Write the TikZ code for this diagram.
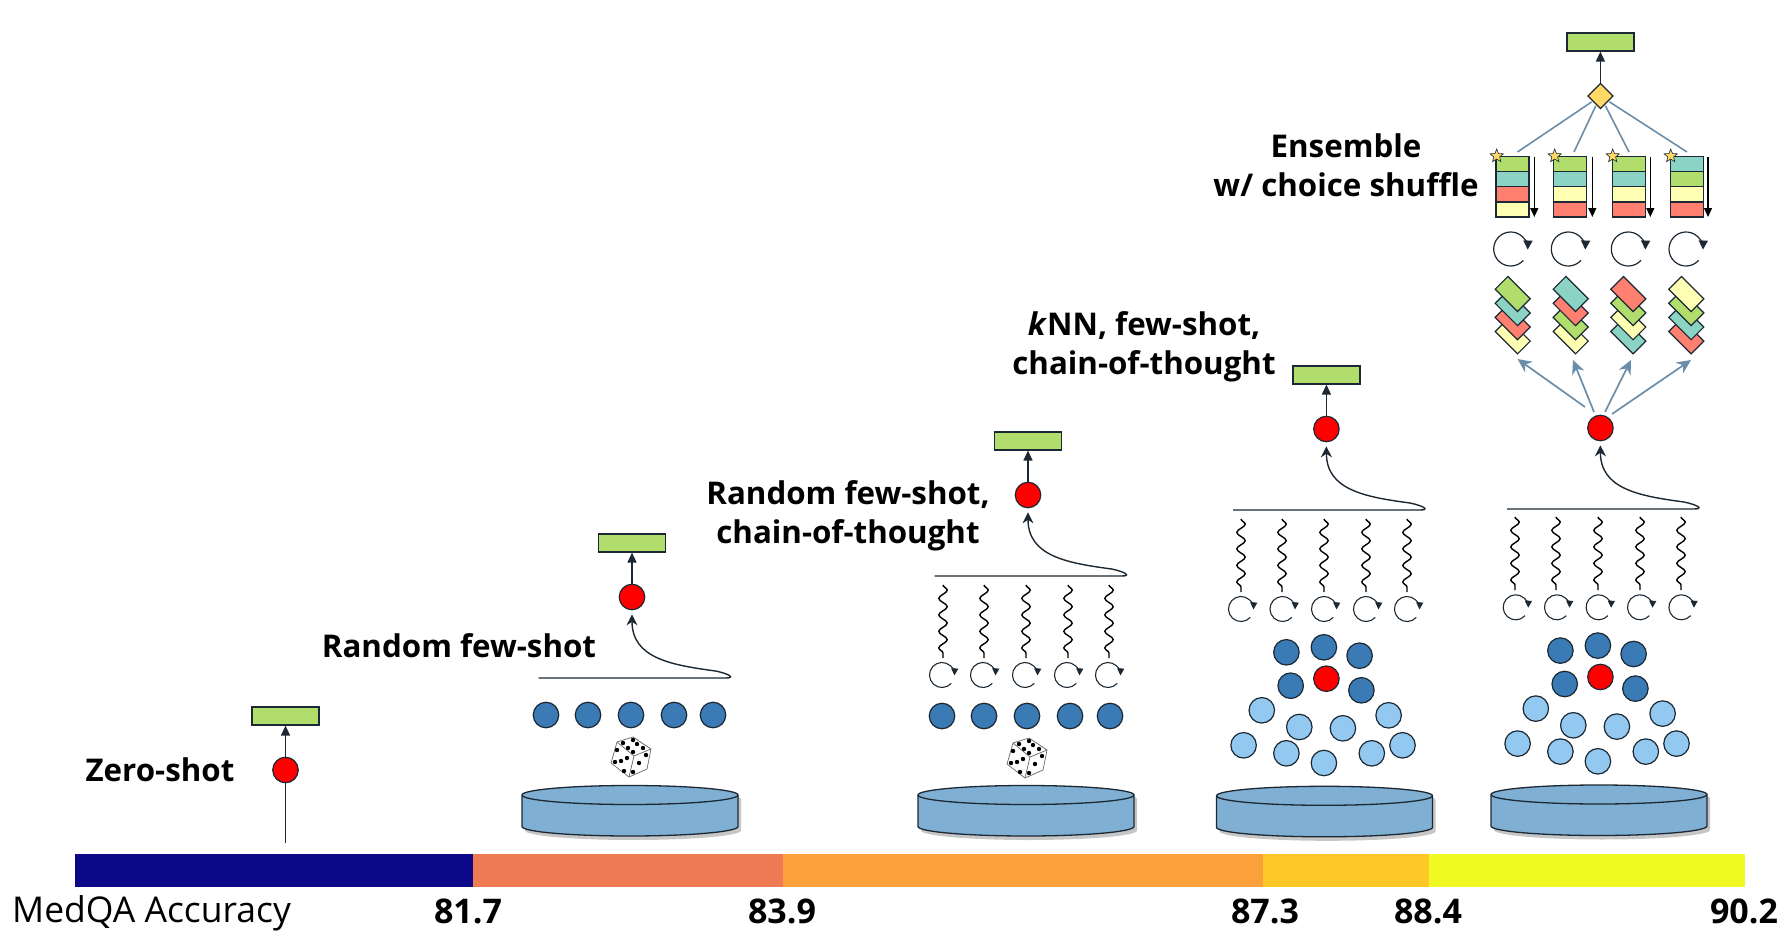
\documentclass[tikz,border=0pt]{standalone}
\usepackage{fontspec}
\setmainfont{Open Sans}
\usetikzlibrary{arrows.meta,shapes.geometric,shadows,decorations.pathmorphing}

\definecolor{barnavy}{HTML}{0D0887}
\definecolor{barcoral}{HTML}{EF7B55}
\definecolor{barorange}{HTML}{FCA13A}
\definecolor{baramber}{HTML}{FEC828}
\definecolor{baryellow}{HTML}{F0F921}
\definecolor{cellgreen}{HTML}{B1DD6C}
\definecolor{cellteal}{HTML}{8AD3C5}
\definecolor{cellred}{HTML}{FF7F70}
\definecolor{cellyellow}{HTML}{FFFFB3}
\definecolor{dotdark}{HTML}{3A7AB5}
\definecolor{dotlight}{HTML}{93C9F0}
\definecolor{dbblue}{HTML}{7FB0D3}
\definecolor{fanblue}{HTML}{6A8DA9}
\definecolor{linedark}{HTML}{1C2833}
\definecolor{ensgold}{HTML}{FFD966}

\tikzset{
	outbox/.style={shape=rectangle, draw=linedark, line width=1.2pt, fill=cellgreen, minimum width=67pt, minimum height=18pt, inner sep=0pt},
	reddot/.style={shape=circle, draw=linedark, line width=1.2pt, fill=red, minimum size=25.5pt, inner sep=0pt},
	darkdot/.style={reddot, fill=dotdark},
	lightdot/.style={reddot, fill=dotlight},
	cell/.style={shape=rectangle, draw=linedark, line width=1.2pt, minimum width=33pt, minimum height=15pt, inner sep=0pt},
	card/.style={shape=rectangle, rotate=-45, draw=linedark, line width=1.2pt, minimum width=31.6pt, minimum height=18pt, inner sep=0pt},
	bestmark/.style={shape=star, star points=5, star point ratio=2.3, draw=linedark, line width=0.6pt, fill=ensgold, minimum size=14pt, inner sep=0pt},
	upline/.style={draw=linedark, line width=1.3pt, -{Stealth[length=10pt,width=9pt,inset=0pt]}},
	plainline/.style={draw=linedark, line width=1.3pt},
	baseline/.style={draw=linedark, line width=1.4pt, -{Stealth[length=11pt,width=11pt]}, shorten >=4pt},
	fanline/.style={draw=fanblue, line width=1.7pt, -{Stealth[length=14pt,width=13pt]}},
	joinline/.style={draw=fanblue, line width=1.6pt, shorten >=1pt},
	sortline/.style={draw=black, line width=1.2pt, -{Stealth[length=9pt,width=8pt,inset=0pt]}},
	wave/.style={draw=black, line width=1.4pt, decorate, decoration={snake, segment length=16.5pt, amplitude=4.2pt}},
	boldtext/.style={font=\bfseries\fontsize{31.3}{39}\selectfont, align=center, inner sep=0pt},
	scoretext/.style={font=\bfseries\fontsize{34}{40}\selectfont, inner sep=0pt},
	smallturn/.pic={\draw[line width=1.1pt, draw=linedark, -{Stealth[length=7pt,width=7pt,inset=0pt]}] (0,0) ++(-42:12.5pt) arc[start angle=-42, end angle=-362, radius=12.5pt];},
	bigturn/.pic={\draw[line width=1.2pt, draw=linedark, -{Stealth[length=9pt,width=9pt,inset=0pt]}] (0,0) ++(-42:17pt) arc[start angle=-42, end angle=-362, radius=17pt];},
	dbdisk/.pic={
		\filldraw[draw=linedark, line width=1.3pt, fill=dbblue, drop shadow={shadow xshift=3pt, shadow yshift=-4pt, fill=black!50, opacity=0.45}] (-108,-15.5) -- (-108,16) arc[start angle=180, end angle=360, x radius=108pt, y radius=9.5pt] -- (108,-15.5) arc[start angle=0, end angle=180, x radius=108pt, y radius=9.5pt] -- cycle;
		\draw[draw=linedark, line width=1.3pt] (-108,-15.5) arc[start angle=180, end angle=360, x radius=108pt, y radius=9.5pt];
	},
	dice/.pic={
		\filldraw[draw=black!60, fill=white, line width=0.7pt, line join=round] (-14,-15) -- (2,-20) -- (20,-8) -- (16,12) -- (-2,20) -- (-20,6) -- cycle;
		\draw[draw=black!60, line width=0.7pt] (-14,-15) -- (3,-1) -- (20,-8) (3,-1) -- (-2,20);
		\fill (-8,-14) circle (2.2pt) (2,-17) circle (2.2pt) (-3,-9) circle (2.2pt) (6,-13) circle (2.2pt) (2,-5) circle (2.2pt) (12,-9) circle (2.2pt);
		\fill (-14,-7) circle (2.2pt) (-4,1) circle (2.2pt) (-10,4) circle (2.2pt) (-16,5) circle (2.2pt) (-7,14) circle (2.2pt);
		\fill (15,-2) circle (2.2pt) (8,6) circle (2.2pt) (2,15) circle (2.2pt);
	},
}

\begin{document}
\begin{tikzpicture}[x=1pt, y=-1pt]
	\useasboundingbox (0,0) rectangle (1792,947);
	% Accuracy bar:
	\fill[barnavy] (74.5,853.5) rectangle (473,886.5);
	\fill[barcoral] (473,853.5) rectangle (783,886.5);
	\fill[barorange] (783,853.5) rectangle (1263,886.5);
	\fill[baramber] (1263,853.5) rectangle (1428.6,886.5);
	\fill[baryellow] (1428.6,853.5) rectangle (1745,886.5);
	\node[anchor=west, inner sep=0pt, font=\fontsize{35.5}{40}\selectfont] (barname) at (12,913) {MedQA Accuracy};
	\node[scoretext] (score1) at (468,911) {81.7};
	\node[scoretext] (score2) at (782,911) {83.9};
	\node[scoretext] (score3) at (1265,911) {87.3};
	\node[scoretext] (score4) at (1428,911) {88.4};
	\node[scoretext] (score5) at (1744,911) {90.2};

	% Zero-shot:
	\coordinate (in1) at (285.5,843);
	\node[outbox] (out1) at (285.5,716) {};
	\node[reddot] (red1) at (285.5,770) {};
	\draw[plainline] (in1) -- (red1);
	\draw[upline] (red1) -- (out1);
	\node[boldtext] (name1) at (160,770) {Zero-shot};

	% Random few-shot:
	\node[outbox] (out2) at (632,543) {};
	\node[reddot] (red2) at (632,597) {};
	\draw[upline] (red2) -- (out2);
	\coordinate (bar2l) at (538.6,678);
	\coordinate (bar2r) at (725.6,678);
	\draw[baseline] (bar2l) -- (bar2r) .. controls (735.6,678) and (729.6,674) .. (715.6,671) .. controls (670.6,665) and (632,658) .. (red2);
	\node[boldtext] (name2) at (459,646) {Random few-shot};
	\node[darkdot] (pick2a) at (546,715) {};
	\node[darkdot] (pick2b) at (588,715) {};
	\node[darkdot] (pick2c) at (631,715) {};
	\node[darkdot] (pick2d) at (674,715) {};
	\node[darkdot] (pick2e) at (713,715) {};
	\pic at (631,757) {dice};
	\pic at (630,810.5) {dbdisk};

	% Random few-shot, chain-of-thought:
	\node[outbox] (out3) at (1028,441) {};
	\node[reddot] (red3) at (1028,495) {};
	\draw[upline] (red3) -- (out3);
	\coordinate (bar3l) at (934.6,576);
	\coordinate (bar3r) at (1121.6,576);
	\draw[baseline] (bar3l) -- (bar3r) .. controls (1131.6,576) and (1125.6,572) .. (1111.6,569) .. controls (1066.6,563) and (1028,556) .. (red3);
	\node[boldtext] (name3) at (848,515.5) {Random few-shot,\\chain-of-thought};
	\draw[wave] (943,585) -- (943,658);
	\draw[wave] (984,585) -- (984,658);
	\draw[wave] (1026,585) -- (1026,658);
	\draw[wave] (1068,585) -- (1068,658);
	\draw[wave] (1109,585) -- (1109,658);
	\pic at (942,675) {smallturn};
	\pic at (983,675) {smallturn};
	\pic at (1025,675) {smallturn};
	\pic at (1067,675) {smallturn};
	\pic at (1108,675) {smallturn};
	\node[darkdot] (pick3a) at (942,716) {};
	\node[darkdot] (pick3b) at (984,716) {};
	\node[darkdot] (pick3c) at (1027,716) {};
	\node[darkdot] (pick3d) at (1070,716) {};
	\node[darkdot] (pick3e) at (1110,716) {};
	\pic at (1027,758) {dice};
	\pic at (1026,810.5) {dbdisk};

	% kNN, few-shot, chain-of-thought:
	\node[outbox] (out4) at (1326.4,375) {};
	\node[reddot] (red4) at (1326.4,429) {};
	\draw[upline] (red4) -- (out4);
	\coordinate (bar4l) at (1233,510);
	\coordinate (bar4r) at (1420,510);
	\draw[baseline] (bar4l) -- (bar4r) .. controls (1430,510) and (1424,506) .. (1410,503) .. controls (1365,497) and (1326.4,490) .. (red4);
	\node[boldtext] (name4) at (1144,347) {\textit{k}NN, few-shot,\\chain-of-thought};
	\draw[wave] (1241,519) -- (1241,592);
	\draw[wave] (1282,519) -- (1282,592);
	\draw[wave] (1324,519) -- (1324,592);
	\draw[wave] (1366,519) -- (1366,592);
	\draw[wave] (1407,519) -- (1407,592);
	\pic at (1241,609) {smallturn};
	\pic at (1282.5,609) {smallturn};
	\pic at (1324,609) {smallturn};
	\pic at (1366,609) {smallturn};
	\pic at (1407,609) {smallturn};
	\node[darkdot] (near4a) at (1286.4,652.3) {};
	\node[darkdot] (near4b) at (1323.9,647.3) {};
	\node[darkdot] (near4c) at (1359.6,655.7) {};
	\node[darkdot] (near4d) at (1290.7,685.7) {};
	\node[darkdot] (near4e) at (1361.4,690.3) {};
	\node[reddot] (query4) at (1326.4,678.7) {};
	\node[lightdot] (far4a) at (1261.8,710.3) {};
	\node[lightdot] (far4b) at (1299.3,727) {};
	\node[lightdot] (far4c) at (1342.9,728.3) {};
	\node[lightdot] (far4d) at (1388.6,715.3) {};
	\node[lightdot] (far4e) at (1243.6,745.3) {};
	\node[lightdot] (far4f) at (1286.4,753.3) {};
	\node[lightdot] (far4g) at (1323.9,763) {};
	\node[lightdot] (far4h) at (1371.8,753.3) {};
	\node[lightdot] (far4i) at (1402.5,745.3) {};
	\pic at (1324.5,811.3) {dbdisk};

	% Ensemble w/ choice shuffle:
	\node[outbox] (out5) at (1600.4,42) {};
	\node[shape=diamond, draw=linedark, line width=1.2pt, fill=ensgold, minimum size=25.5pt, inner sep=0pt] (ens) at (1600.4,96) {};
	\draw[upline] (ens) -- (out5);
	\node[reddot] (red5) at (1600.4,428) {};
	\coordinate (bar5l) at (1507,509);
	\coordinate (bar5r) at (1694,509);
	\draw[baseline] (bar5l) -- (bar5r) .. controls (1704,509) and (1698,505) .. (1684,502) .. controls (1639,496) and (1600.4,489) .. (red5);
	\node[boldtext] (name5) at (1346,165) {Ensemble\\w/ choice shuffle};

	\coordinate (top1) at (1517.5,152);
	\coordinate (top2) at (1574,152);
	\coordinate (top3) at (1629,152);
	\coordinate (top4) at (1687,152);
	\draw[joinline] (top1) -- (ens);
	\draw[joinline] (top2) -- (ens);
	\draw[joinline] (top3) -- (ens);
	\draw[joinline] (top4) -- (ens);

	\node[cell, fill=cellgreen] (rank1a) at (1512.5,164.4) {};
	\node[cell, fill=cellteal] (rank1b) at (1512.5,179.4) {};
	\node[cell, fill=cellred] (rank1c) at (1512.5,194.4) {};
	\node[cell, fill=cellyellow] (rank1d) at (1512.5,209.4) {};
	\node[cell, fill=cellgreen] (rank2a) at (1570.3,164.4) {};
	\node[cell, fill=cellteal] (rank2b) at (1570.3,179.4) {};
	\node[cell, fill=cellyellow] (rank2c) at (1570.3,194.4) {};
	\node[cell, fill=cellred] (rank2d) at (1570.3,209.4) {};
	\node[cell, fill=cellgreen] (rank3a) at (1628.6,164.4) {};
	\node[cell, fill=cellteal] (rank3b) at (1628.6,179.4) {};
	\node[cell, fill=cellyellow] (rank3c) at (1628.6,194.4) {};
	\node[cell, fill=cellred] (rank3d) at (1628.6,209.4) {};
	\node[cell, fill=cellteal] (rank4a) at (1686.7,164.4) {};
	\node[cell, fill=cellgreen] (rank4b) at (1686.7,179.4) {};
	\node[cell, fill=cellyellow] (rank4c) at (1686.7,194.4) {};
	\node[cell, fill=cellred] (rank4d) at (1686.7,209.4) {};
	\node[bestmark] (best1) at (1496.7,156) {};
	\node[bestmark] (best2) at (1554.7,156) {};
	\node[bestmark] (best3) at (1612.7,156) {};
	\node[bestmark] (best4) at (1670.7,156) {};
	\coordinate (sort1a) at (1534.3,157);
	\coordinate (sort1b) at (1534.3,217);
	\coordinate (sort2a) at (1592.3,157);
	\coordinate (sort2b) at (1592.3,217);
	\coordinate (sort3a) at (1650.3,157);
	\coordinate (sort3b) at (1650.3,217);
	\coordinate (sort4a) at (1708,157);
	\coordinate (sort4b) at (1708,217);
	\draw[sortline] (sort1a) -- (sort1b);
	\draw[sortline] (sort2a) -- (sort2b);
	\draw[sortline] (sort3a) -- (sort3b);
	\draw[sortline] (sort4a) -- (sort4b);

	\pic at (1510.7,249) {bigturn};
	\pic at (1568.3,249) {bigturn};
	\pic at (1628.3,249) {bigturn};
	\pic at (1686,249) {bigturn};

	\node[card, fill=cellyellow] (deck1d) at (1512.7,336.3) {};
	\node[card, fill=cellred] (deck1c) at (1512.7,322.2) {};
	\node[card, fill=cellteal] (deck1b) at (1512.7,308.1) {};
	\node[card, fill=cellgreen] (deck1a) at (1512.7,294) {};
	\node[card, fill=cellyellow] (deck2d) at (1570.7,336.3) {};
	\node[card, fill=cellgreen] (deck2c) at (1570.7,322.2) {};
	\node[card, fill=cellred] (deck2b) at (1570.7,308.1) {};
	\node[card, fill=cellteal] (deck2a) at (1570.7,294) {};
	\node[card, fill=cellteal] (deck3d) at (1628.3,336.3) {};
	\node[card, fill=cellyellow] (deck3c) at (1628.3,322.2) {};
	\node[card, fill=cellgreen] (deck3b) at (1628.3,308.1) {};
	\node[card, fill=cellred] (deck3a) at (1628.3,294) {};
	\node[card, fill=cellred] (deck4d) at (1686.3,336.3) {};
	\node[card, fill=cellteal] (deck4c) at (1686.3,322.2) {};
	\node[card, fill=cellgreen] (deck4b) at (1686.3,308.1) {};
	\node[card, fill=cellyellow] (deck4a) at (1686.3,294) {};

	\coordinate (from1) at (1585,407);
	\coordinate (from2) at (1594,412);
	\coordinate (from3) at (1605,412);
	\coordinate (from4) at (1612,414);
	\coordinate (tip1) at (1517.5,359);
	\coordinate (tip2) at (1573,360);
	\coordinate (tip3) at (1631,360);
	\coordinate (tip4) at (1691,360);
	\draw[fanline] (from1) -- (tip1);
	\draw[fanline] (from2) -- (tip2);
	\draw[fanline] (from3) -- (tip3);
	\draw[fanline] (from4) -- (tip4);

	\draw[wave] (1515,517) -- (1515,590);
	\draw[wave] (1556,517) -- (1556,590);
	\draw[wave] (1598,517) -- (1598,590);
	\draw[wave] (1640,517) -- (1640,590);
	\draw[wave] (1681,517) -- (1681,590);
	\pic at (1515.7,607.3) {smallturn};
	\pic at (1557,607.3) {smallturn};
	\pic at (1598.6,607.3) {smallturn};
	\pic at (1640,607.3) {smallturn};
	\pic at (1681.4,607.3) {smallturn};
	\node[darkdot] (near5a) at (1560.4,650.6) {};
	\node[darkdot] (near5b) at (1597.9,645.6) {};
	\node[darkdot] (near5c) at (1633.6,654) {};
	\node[darkdot] (near5d) at (1564.7,684) {};
	\node[darkdot] (near5e) at (1635.4,688.6) {};
	\node[reddot] (query5) at (1600.4,677) {};
	\node[lightdot] (far5a) at (1535.8,708.6) {};
	\node[lightdot] (far5b) at (1573.3,725.3) {};
	\node[lightdot] (far5c) at (1616.9,726.6) {};
	\node[lightdot] (far5d) at (1662.6,713.6) {};
	\node[lightdot] (far5e) at (1517.6,743.6) {};
	\node[lightdot] (far5f) at (1560.4,751.6) {};
	\node[lightdot] (far5g) at (1597.9,761.3) {};
	\node[lightdot] (far5h) at (1645.8,751.6) {};
	\node[lightdot] (far5i) at (1676.5,743.6) {};
	\pic at (1599,810) {dbdisk};
\end{tikzpicture}
\end{document}
